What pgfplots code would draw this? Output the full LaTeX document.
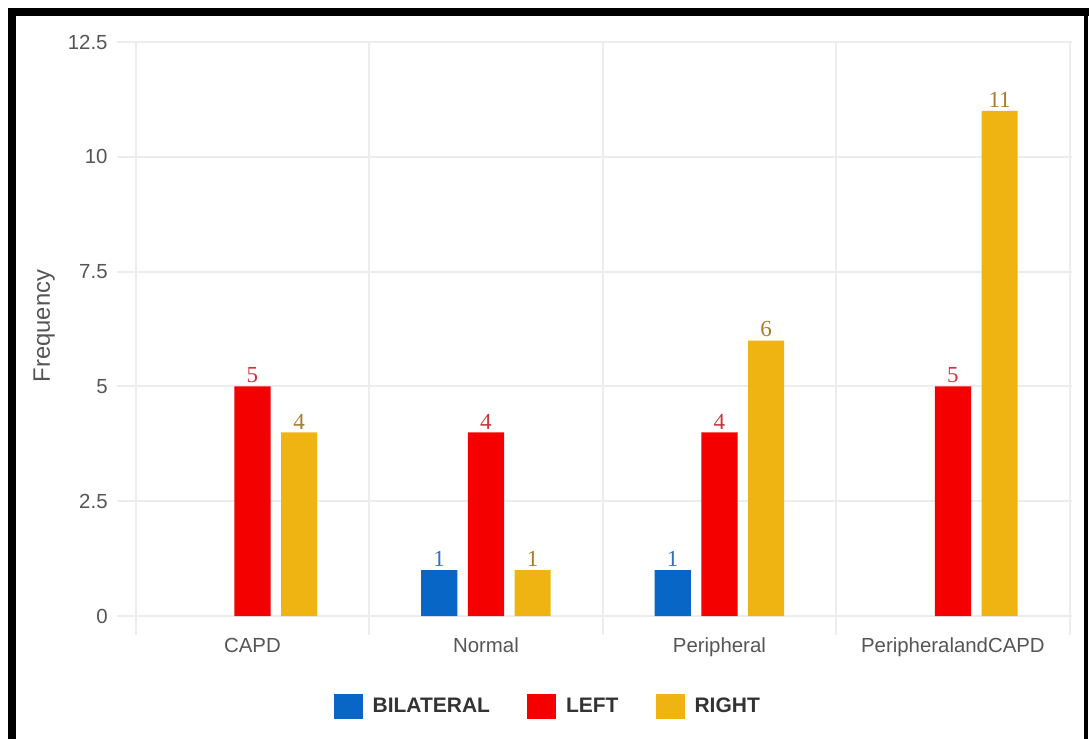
\documentclass[border=0pt]{standalone}
\usepackage{pgfplots}
\pgfplotsset{compat=1.18}
\usepackage{fontspec}
\setmainfont{Liberation Sans}
\newfontfamily\numfont{Liberation Serif}

\definecolor{cBil}{HTML}{0866C6}
\definecolor{cLeft}{HTML}{F40000}
\definecolor{cRight}{HTML}{EFB312}
\definecolor{lBil}{HTML}{3A6CC4}
\definecolor{lLeft}{HTML}{C8363A}
\definecolor{lRight}{HTML}{A87C2A}
\definecolor{gridc}{HTML}{EDEDED}
\definecolor{tickc}{HTML}{555555}
\definecolor{legc}{HTML}{333333}

\pgfkeys{/pgf/number format/assume math mode=true}

\begin{document}
\begin{tikzpicture}
% canvas and frame
\path[use as bounding box] (0,0) rectangle (544.5pt,369.5pt);
\fill[black] (4pt,361.5pt) rectangle (544.5pt,365.5pt);
\fill[black] (4pt,0pt) rectangle (8pt,365.5pt);
\fill[black] (542pt,0pt) rectangle (544pt,365.5pt);

\begin{axis}[
  at={(58.5pt,52pt)}, anchor=south west,
  scale only axis, width=477.5pt, height=296.5pt,
  xmin=0.42, xmax=4.51, ymin=-0.41, ymax=12.5,
  xtick={1,2,3,4},
  xticklabels={CAPD,Normal,Peripheral,PeripheralandCAPD},
  minor xtick={0.5,1.5,2.5,3.5,4.5},
  ytick={0,2.5,5,7.5,10,12.5},
  yticklabels={0,2.5,5,7.5,10,12.5},
  xmajorgrids=false, xminorgrids=true, ymajorgrids=true,
  grid style={gridc, line width=1pt},
  minor grid style={gridc, line width=1pt},
  axis line style={draw=none},
  major tick length=0pt, minor tick length=0pt,
  tick style={draw=none},
  ticklabel style={font=\fontsize{10.2}{12}\selectfont, text=tickc},
  yticklabel style={anchor=east, inner sep=0pt, xshift=-4.5pt},
  xticklabel style={anchor=north, inner sep=0pt, text height=7.5pt, text depth=2pt, yshift=-1pt},
  ylabel={Frequency},
  ylabel style={at={(axis description cs:-0.0764,0.521)}, anchor=center,
    font=\fontsize{11.9}{14}\selectfont, text=tickc, inner sep=0pt},
  legend columns=3,
  legend style={at={(axis description cs:0.45,-0.121)}, anchor=center,
    draw=none, fill=none, font=\bfseries\fontsize{10.5}{12}\selectfont, text=legc,
    nodes={inner sep=0pt},
    /tikz/every odd column/.append style={column sep=5pt},
    /tikz/every even column/.append style={column sep=18.5pt}},
  legend image code/.code={\fill[#1] (0pt,-6.25pt) rectangle (14.5pt,6.25pt);},
  clip=false,
]
% BILATERAL
\addplot[ybar, bar width=0.155, bar shift=0pt, fill=cBil, draw=none,
  nodes near coords, every node near coord/.append style={font=\numfont\fontsize{11.5}{12}\selectfont, text=lBil, anchor=south, inner sep=0pt, yshift=1.5pt}]
  coordinates {(1.8,1) (2.8,1)};
\addlegendentry{BILATERAL}
% LEFT
\addplot[ybar, bar width=0.155, bar shift=0pt, fill=cLeft, draw=none,
  nodes near coords, every node near coord/.append style={font=\numfont\fontsize{11.5}{12}\selectfont, text=lLeft, anchor=south, inner sep=0pt, yshift=1.5pt}]
  coordinates {(1,5) (2,4) (3,4) (4,5)};
\addlegendentry{LEFT}
% RIGHT
\addplot[ybar, bar width=0.155, bar shift=0pt, fill=cRight, draw=none,
  nodes near coords, every node near coord/.append style={font=\numfont\fontsize{11.5}{12}\selectfont, text=lRight, anchor=south, inner sep=0pt, yshift=1.5pt}]
  coordinates {(1.2,4) (2.2,1) (3.2,6) (4.2,11)};
\addlegendentry{RIGHT}
\end{axis}
\end{tikzpicture}
\end{document}
